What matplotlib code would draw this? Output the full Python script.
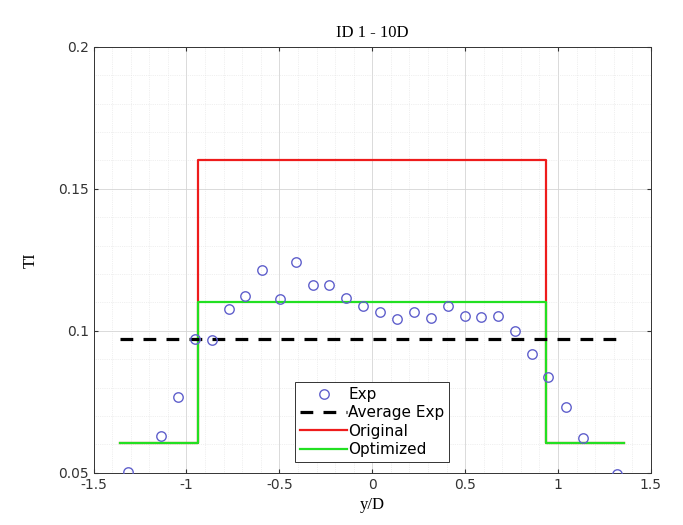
import matplotlib
matplotlib.use("Agg")
import matplotlib.pyplot as plt
from matplotlib.ticker import MultipleLocator, FuncFormatter

# Experimental data
exp_x = [-1.313, -1.138, -1.045, -0.955, -0.861, -0.772, -0.686, -0.593, -0.498,
         -0.41, -0.319, -0.234, -0.14, -0.048, 0.042, 0.135, 0.224, 0.314, 0.408,
         0.498, 0.587, 0.676, 0.766, 0.859, 0.948, 1.043, 1.136, 1.316]
exp_y = [0.0504, 0.063, 0.0768, 0.0971, 0.0967, 0.1076, 0.1123, 0.1214, 0.111,
         0.1243, 0.1160, 0.1160, 0.1116, 0.1088, 0.1065, 0.1040, 0.1065, 0.1046, 0.1088,
         0.1053, 0.1047, 0.1053, 0.0999, 0.0918, 0.0838, 0.0732, 0.0621, 0.0495]

avg_x = [-1.356, 1.35]
avg_y = [0.097, 0.097]

step_x = [-1.356, -0.937, -0.937, 0.937, 0.937, 1.356]
orig_y = [0.0605, 0.0605, 0.160, 0.160, 0.0605, 0.0605]
opt_y = [0.0605, 0.0605, 0.110, 0.110, 0.0605, 0.0605]

fig = plt.figure(figsize=(6.83, 5.25), dpi=100)
ax = fig.add_axes([0.137, 0.0996, 0.816, 0.8114])

ax.plot(exp_x, exp_y, 'o', mfc='none', mec='#6060cc', ms=6.8, mew=1.0, label='Exp', zorder=5)
ax.plot(avg_x, avg_y, '--', color='black', lw=2.3, dashes=(4, 3.2), label='Average Exp', zorder=4)
ax.plot(step_x, orig_y, '-', color='#ee1c1c', lw=1.6, label='Original', zorder=2)
ax.plot(step_x, opt_y, '-', color='#22e022', lw=1.6, label='Optimized', zorder=3)

ax.set_xlim(-1.5, 1.5)
ax.set_ylim(0.05, 0.2)
ax.xaxis.set_major_locator(MultipleLocator(0.5))
ax.yaxis.set_major_locator(MultipleLocator(0.05))
ax.xaxis.set_minor_locator(MultipleLocator(0.1))
ax.yaxis.set_minor_locator(MultipleLocator(0.01))
ax.xaxis.set_major_formatter(FuncFormatter(lambda v, p: ('%g' % v)))
ax.yaxis.set_major_formatter(FuncFormatter(lambda v, p: ('%g' % v)))

ax.grid(True, which='major', color='#d4d4d4', lw=0.6)
ax.grid(True, which='minor', color='#e2e2e2', lw=0.5, ls=':')
ax.set_axisbelow(True)
ax.tick_params(which='both', direction='in', top=True, right=True, labelsize=10,
               colors='#333333', labelcolor='#333333')
ax.tick_params(which='major', length=3)
ax.tick_params(which='minor', length=0)
for lab in ax.get_xticklabels() + ax.get_yticklabels():
    lab.set_family('DejaVu Sans')
for s in ax.spines.values():
    s.set_color('#333333')
    s.set_linewidth(0.7)

ax.set_title('ID 1 - 10D', family='Liberation Serif', fontsize=12, pad=7)
ax.set_xlabel('y/D', family='Liberation Serif', fontsize=12, labelpad=4)
ax.set_ylabel('TI', family='Liberation Serif', fontsize=12, labelpad=14)

leg = ax.legend(loc='lower center', bbox_to_anchor=(0.5, 0.026), fontsize=11,
                handlelength=3.1, handletextpad=0.05, borderpad=0.3, labelspacing=0.22,
                borderaxespad=0, fancybox=False, framealpha=1, edgecolor='#333333')
leg.get_frame().set_linewidth(0.7)

fig.savefig('out.png', dpi=100)
